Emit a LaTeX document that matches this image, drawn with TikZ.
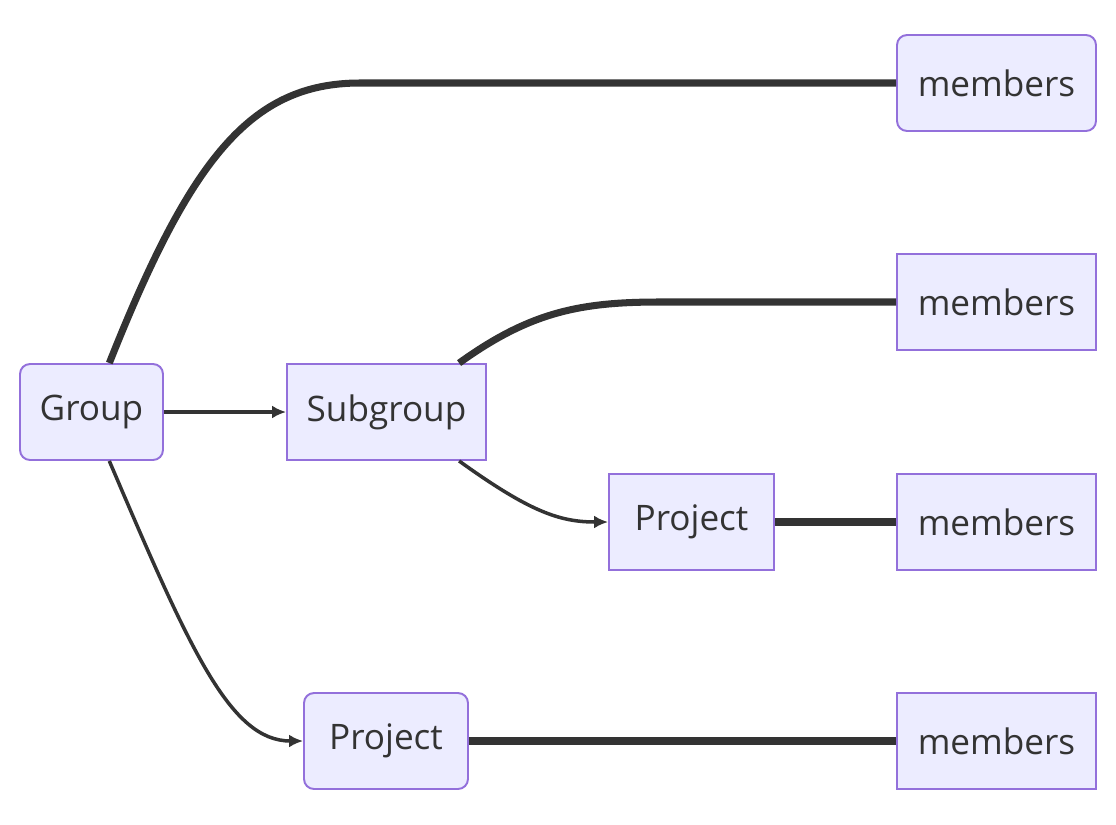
\documentclass[tikz,border=0pt]{standalone}
\usepackage{fontspec}
\setmainfont{Open Sans}
\usepackage{tikz}
\usetikzlibrary{arrows.meta,positioning}
\definecolor{nodefill}{HTML}{ECECFF}
\definecolor{nodeline}{HTML}{9370DB}
\definecolor{edge}{HTML}{333333}

\begin{document}
\begin{tikzpicture}[x=0.02cm,y=-0.02cm,
  box/.style={draw=nodeline,fill=nodefill,line width=1.1pt,minimum height=1.92cm,inner sep=0pt,text=edge,font=\fontsize{20}{24}\selectfont},
  roundbox/.style={box,rounded corners=0.2cm},
  link/.style={draw=edge,line width=4pt},
  arrowlink/.style={draw=edge,line width=2pt,-{Latex[length=0.28cm,width=0.26cm]}}]
\useasboundingbox (0,0) rectangle (1116,825);
\node[roundbox,minimum width=2.86cm] (group) at (91.5,412) {Group};
\node[box,minimum width=3.98cm] (subgroup) at (386.5,412) {Subgroup};
\node[box,minimum width=3.3cm] (project1) at (691.5,522) {Project};
\node[roundbox,minimum width=3.28cm] (project2) at (386,741) {Project};
\node[roundbox,minimum width=3.98cm] (members1) at (996.5,83) {members};
\node[box,minimum width=3.98cm] (members2) at (996.5,302) {members};
\node[box,minimum width=3.98cm] (members3) at (996.5,522) {members};
\node[box,minimum width=3.98cm] (members4) at (996.5,741) {members};
\draw[link] (group.70) .. controls (190,160) and (250,83) .. (360,83) -- (members1.west);
\draw[arrowlink] (group.east) -- (subgroup.west);
\draw[arrowlink] (group.-70) .. controls (190,650) and (230,741) .. (project2.west);
\draw[link] (subgroup.34) .. controls (530,312) and (580,302) .. (660,302) -- (members2.west);
\draw[arrowlink] (subgroup.-34) .. controls (530,512) and (560,522) .. (project1.west);
\draw[link] (project1.east) -- (members3.west);
\draw[link] (project2.east) -- (members4.west);
\end{tikzpicture}
\end{document}
